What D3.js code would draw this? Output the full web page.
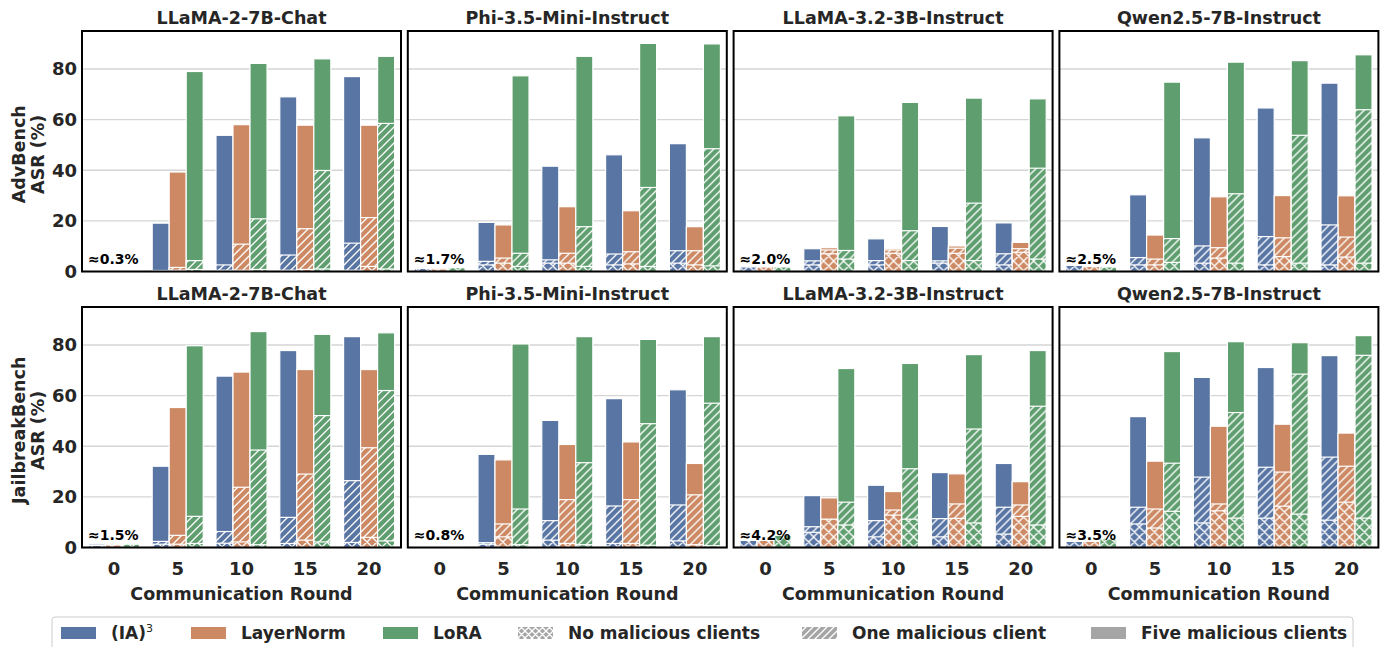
<!DOCTYPE html>
<html>
<head>
<meta charset="utf-8">
<script src="https://cdn.jsdelivr.net/npm/d3@7"></script>
<style>
  body { margin: 0; background: #fff; }
  svg text { font-family: "DejaVu Sans", sans-serif; font-weight: bold; fill: #262626; }
</style>
</head>
<body>
<div id="chart"></div>
<script>
////////////////////////////////////////////////////////////////////
////////////////////////////  Data  ////////////////////////////////
const rounds = [0, 5, 10, 15, 20];
const methods = ["(IA)3", "LayerNorm", "LoRA"];
const models = ["LLaMA-2-7B-Chat", "Phi-3.5-Mini-Instruct", "LLaMA-3.2-3B-Instruct", "Qwen2.5-7B-Instruct"];
const benchmarks = ["AdvBench", "JailbreakBench"];
const scenarios = ["No malicious clients", "One malicious client", "Five malicious clients"];
const roundZeroNotes = [
  ["≈0.3%", "≈1.7%", "≈2.0%", "≈2.5%"],
  ["≈1.5%", "≈0.8%", "≈4.2%", "≈3.5%"],
];
const yTicks = [0, 20, 40, 60, 80];

// ASR (%) per method [(IA)3, LayerNorm, LoRA] x round
const advLlama2 = {
  five: [[0.3, 19.1, 53.8, 69.0, 77.0], [0.3, 39.3, 58.0, 57.8, 57.8], [0.3, 79.0, 82.2, 84.0, 85.0]],
  one:  [[0.3, 0.4, 2.6, 6.5, 11.2], [0.3, 1.6, 10.8, 16.9, 21.3], [0.3, 4.3, 20.8, 39.9, 58.5]],
  none: [[0.3, 0.3, 0.5, 0.5, 0.5], [0.3, 0.5, 0.5, 0.8, 2.0], [0.3, 0.8, 0.8, 1.0, 1.0]],
};
const advPhi = {
  five: [[1.7, 19.4, 41.6, 46.1, 50.5], [1.5, 18.4, 25.6, 24.0, 17.7], [1.7, 77.3, 85.0, 90.1, 89.9]],
  one:  [[1.5, 4.0, 4.6, 6.9, 8.2], [1.3, 5.3, 7.2, 7.8, 8.2], [1.7, 7.2, 17.7, 33.2, 48.5]],
  none: [[1.2, 2.6, 3.3, 2.6, 3.3], [1.0, 3.3, 3.3, 3.0, 2.6], [1.5, 2.0, 2.0, 2.0, 2.2]],
};
const advLlama32 = {
  five: [[2.0, 9.0, 12.9, 17.8, 19.2], [2.0, 9.4, 9.0, 10.1, 11.5], [2.0, 61.5, 66.8, 68.5, 68.2]],
  one:  [[2.0, 4.2, 4.3, 4.2, 7.0], [2.0, 8.5, 8.5, 9.2, 9.0], [2.0, 8.3, 16.1, 27.0, 40.8]],
  none: [[1.8, 2.6, 2.6, 3.3, 2.6], [1.8, 7.0, 7.2, 7.2, 7.6], [1.8, 4.9, 4.3, 4.3, 4.9]],
};
const advQwen = {
  five: [[2.6, 30.3, 52.8, 64.6, 74.4], [2.2, 14.4, 29.5, 30.0, 29.9], [2.0, 74.8, 82.7, 83.3, 85.6]],
  one:  [[2.6, 5.5, 10.1, 13.8, 18.4], [2.2, 4.9, 9.4, 13.3, 13.6], [2.0, 13.0, 30.7, 53.8, 63.9]],
  none: [[2.4, 2.6, 3.3, 2.6, 2.6], [2.0, 2.6, 5.3, 5.9, 5.7], [1.8, 3.6, 3.3, 3.3, 3.3]],
};
const jbbLlama2 = {
  five: [[1.5, 32.1, 67.7, 77.8, 83.3], [1.5, 55.3, 69.3, 70.3, 70.3], [1.5, 79.7, 85.3, 84.2, 84.8]],
  one:  [[1.0, 2.4, 6.3, 11.9, 26.4], [1.3, 4.8, 23.8, 29.0, 39.4], [1.5, 12.3, 38.5, 52.1, 62.0]],
  none: [[0.8, 1.3, 1.7, 1.6, 2.0], [1.0, 1.3, 2.2, 2.9, 4.0], [1.3, 1.6, 1.1, 2.2, 2.6]],
};
const jbbPhi = {
  five: [[0.8, 36.8, 50.2, 58.8, 62.3], [0.8, 34.6, 40.7, 41.7, 33.2], [0.2, 80.4, 83.3, 82.2, 83.3]],
  one:  [[0.6, 1.9, 10.6, 16.4, 16.8], [0.6, 9.3, 18.9, 18.9, 20.8], [0.2, 15.2, 33.5, 48.9, 57.0]],
  none: [[0.5, 1.3, 2.9, 1.6, 2.6], [0.5, 4.2, 1.6, 1.6, 1.1], [0.2, 1.1, 1.1, 0.9, 0.7]],
};
const jbbLlama32 = {
  five: [[3.0, 20.5, 24.6, 29.6, 33.2], [3.0, 19.6, 22.1, 29.1, 26.0], [5.0, 70.7, 72.7, 76.2, 77.8]],
  one:  [[3.0, 8.2, 10.6, 11.4, 15.9], [3.0, 11.0, 14.8, 17.2, 16.8], [5.0, 17.9, 31.1, 46.8, 55.8]],
  none: [[2.8, 6.0, 4.2, 4.2, 5.3], [2.8, 11.2, 12.8, 11.5, 12.3], [4.8, 8.9, 11.2, 9.7, 8.9]],
};
const jbbQwen = {
  five: [[2.6, 51.7, 67.2, 71.1, 75.8], [2.6, 34.1, 47.9, 48.7, 45.2], [3.6, 77.4, 81.3, 80.9, 83.7]],
  one:  [[2.6, 15.9, 27.8, 31.7, 35.7], [2.6, 15.2, 17.2, 29.8, 32.1], [3.6, 33.3, 53.3, 68.5, 75.9]],
  none: [[2.4, 9.3, 9.7, 11.6, 10.8], [2.4, 7.7, 14.5, 16.3, 17.9], [3.4, 14.3, 11.6, 13.2, 11.6]],
};
const panels = [
  [advLlama2, advPhi, advLlama32, advQwen],
  [jbbLlama2, jbbPhi, jbbLlama32, jbbQwen],
];

////////////////////////////////////////////////////////////////////
////////////////////////////  Init  ////////////////////////////////
const width = 1389;
const height = 647;
const colors = ["#5975a4", "#cc8963", "#5f9e6e"];
const legendGray = "#a5a5a5";

const panelW = 319;
const panelH = 240.5;
const colLeft = (c) => 82 + c * 325.8;
const rowTop = (r) => 31 + r * 276;

const svg = d3.select("#chart").append("svg")
  .attr("width", width)
  .attr("height", height);

svg.append("rect").attr("width", width).attr("height", height).attr("fill", "#fff");

// hatch patterns
const defs = svg.append("defs");
const addPattern = (id, fill, size, cross) => {
  const p = defs.append("pattern")
    .attr("id", id)
    .attr("patternUnits", "userSpaceOnUse")
    .attr("width", size)
    .attr("height", size);
  p.append("rect").attr("width", size).attr("height", size).attr("fill", fill);
  let d = `M-2,2 L2,-2 M0,${size} L${size},0 M${size - 2},${size + 2} L${size + 2},${size - 2}`;
  if (cross) d += ` M-2,${size - 2} L2,${size + 2} M0,0 L${size},${size} M${size - 2},-2 L${size + 2},2`;
  p.append("path").attr("d", d).attr("stroke", "#fff").attr("stroke-width", 1.3);
};
colors.forEach((c, i) => {
  addPattern(`one-${i}`, c, 8, false);
  addPattern(`none-${i}`, c, 10, true);
});
addPattern("one-legend", legendGray, 7, false);
addPattern("none-legend", legendGray, 7, true);

// scales
const x = d3.scaleBand().domain(rounds).range([0, panelW]).padding(0);
const xm = d3.scaleBand().domain(d3.range(methods.length))
  .range([x.bandwidth() * 0.1, x.bandwidth() * 0.9]).padding(0);
const y = d3.scaleLinear().domain([0, 95]).range([panelH, 0]);

////////////////////////////////////////////////////////////////////
////////////////////////////  Panels  //////////////////////////////
panels.forEach((row, r) => {
  row.forEach((data, c) => {
    const g = svg.append("g").attr("transform", `translate(${colLeft(c)},${rowTop(r)})`);

    // grid
    g.selectAll(".grid")
      .data(yTicks)
      .enter()
      .append("line")
      .attr("x1", 0)
      .attr("x2", panelW)
      .attr("y1", (d) => y(d))
      .attr("y2", (d) => y(d))
      .attr("stroke", "#d5d5d5")
      .attr("stroke-width", 1.4);

    // bars: five (solid), one (slash), none (cross)
    const layers = [
      { key: "five", fill: (m) => colors[m] },
      { key: "one", fill: (m) => `url(#one-${m})` },
      { key: "none", fill: (m) => `url(#none-${m})` },
    ];
    layers.forEach((layer) => {
      methods.forEach((name, m) => {
        g.selectAll(`.bar-${layer.key}-${m}`)
          .data(data[layer.key][m])
          .enter()
          .append("rect")
          .attr("x", (d, i) => x(rounds[i]) + xm(m))
          .attr("width", xm.bandwidth())
          .attr("y", (d) => y(d))
          .attr("height", (d) => y(0) - y(d))
          .attr("fill", layer.fill(m))
          .attr("stroke", "#fff")
          .attr("stroke-width", 1.2);
      });
    });

    // frame
    g.append("rect")
      .attr("width", panelW)
      .attr("height", panelH)
      .attr("fill", "none")
      .attr("stroke", "#000")
      .attr("stroke-width", 2);

    // title
    g.append("text")
      .attr("x", panelW / 2)
      .attr("y", -7.5)
      .attr("text-anchor", "middle")
      .style("font-size", "17.5px")
      .text(models[c]);

    // round 0 note
    g.append("text")
      .attr("x", 6)
      .attr("y", y(0) - 7.5)
      .style("font-size", "14px")
      .style("fill", "#000")
      .text(roundZeroNotes[r][c]);

    // y axis
    if (c === 0) {
      const ya = g.append("g")
        .call(d3.axisLeft(y).tickValues(yTicks).tickSize(0).tickPadding(5));
      ya.select(".domain").remove();
      ya.selectAll("text")
        .style("font-size", "18px")
        .style("font-family", "DejaVu Sans")
        .style("font-weight", "bold")
        .attr("fill", "#262626");

      const label = g.append("text")
        .attr("transform", `translate(${-57},${panelH / 2 + 3}) rotate(-90)`)
        .attr("text-anchor", "middle")
        .style("font-size", "17.5px");
      label.append("tspan").attr("x", 0).attr("y", 0).text(benchmarks[r]);
      label.append("tspan").attr("x", 0).attr("y", 18.5).text("ASR (%)");
    }

    // x axis
    if (r === 1) {
      const xa = g.append("g")
        .attr("transform", `translate(0,${panelH})`)
        .call(d3.axisBottom(x).tickSize(0).tickPadding(15));
      xa.select(".domain").remove();
      xa.selectAll("text")
        .style("font-size", "18px")
        .style("font-family", "DejaVu Sans")
        .style("font-weight", "bold")
        .attr("fill", "#262626");

      g.append("text")
        .attr("x", panelW / 2)
        .attr("y", panelH + 52)
        .attr("text-anchor", "middle")
        .style("font-size", "17.5px")
        .text("Communication Round");
    }
  });
});

////////////////////////////////////////////////////////////////////
////////////////////////////  Legend  //////////////////////////////
const legend = svg.append("g").attr("transform", "translate(52,617)");
legend.append("rect")
  .attr("width", 1301)
  .attr("height", 40)
  .attr("rx", 3)
  .attr("fill", "#fff")
  .attr("stroke", "#cccccc")
  .attr("stroke-width", 1);

const legendItems = [
  { label: methods[0], fill: colors[0], x: 9 },
  { label: methods[1], fill: colors[1], x: 139 },
  { label: methods[2], fill: colors[2], x: 331 },
  { label: scenarios[0], fill: "url(#none-legend)", x: 466 },
  { label: scenarios[1], fill: "url(#one-legend)", x: 750 },
  { label: scenarios[2], fill: legendGray, x: 1039 },
];

const items = legend.selectAll(".item")
  .data(legendItems)
  .enter()
  .append("g")
  .attr("transform", (d) => `translate(${d.x},0)`);

items.append("rect")
  .attr("y", 10)
  .attr("width", 35)
  .attr("height", 12)
  .attr("fill", (d) => d.fill);

items.append("text")
  .attr("x", 50)
  .attr("y", 22)
  .style("font-size", "17px")
  .each(function (d) {
    const t = d3.select(this);
    if (d.label === "(IA)3") {
      t.append("tspan").text("(IA)");
      t.append("tspan")
        .attr("dy", -7)
        .style("font-size", "11px")
        .style("font-weight", "normal")
        .text("3");
    } else {
      t.text(d.label);
    }
  });
</script>
</body>
</html>
